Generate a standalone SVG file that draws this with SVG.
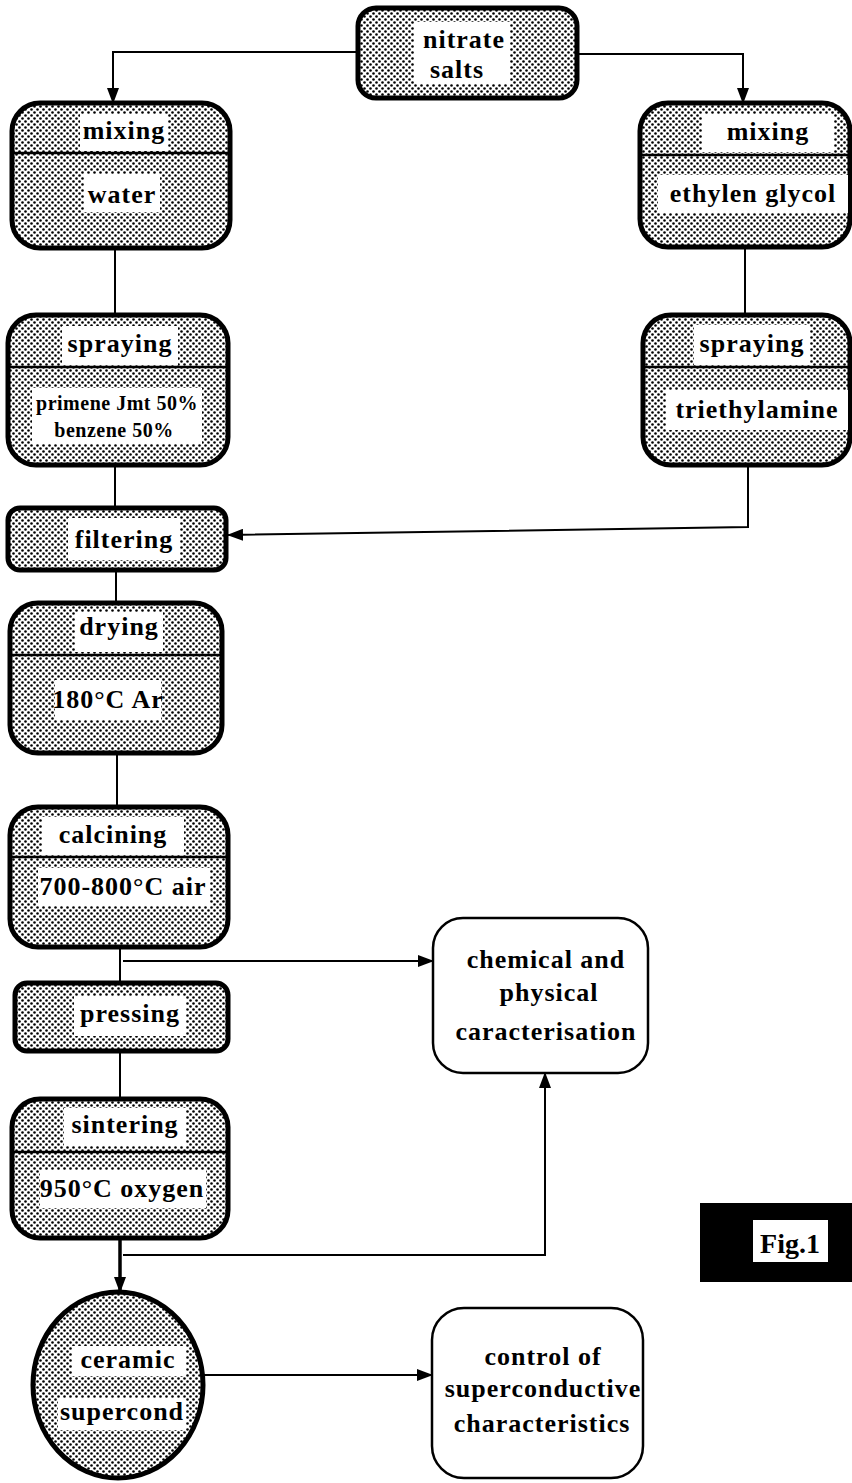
<svg xmlns="http://www.w3.org/2000/svg" width="852" height="1483" viewBox="0 0 852 1483">
<style>
.box{fill:url(#dots);stroke:#000;stroke-width:5}
.wbox{fill:#fff;stroke:#000;stroke-width:2.5}
.div{stroke:#000;stroke-width:2.5}
.knock{fill:#fff}
.t{font-family:"Liberation Serif","DejaVu Serif",serif;font-weight:bold;font-size:26px;letter-spacing:1px;text-anchor:middle;fill:#000}
.s{font-size:20px;letter-spacing:0.5px}
.c{fill:none;stroke:#000;stroke-width:2}
.ca{fill:none;stroke:#000;stroke-width:2;marker-end:url(#ah)}
</style>
<defs>
<pattern id="dots" width="6" height="6" patternUnits="userSpaceOnUse">
<rect width="6" height="6" fill="#fff"/>
<circle cx="1.5" cy="1.5" r="1.3" fill="#000"/>
<circle cx="4.5" cy="4.5" r="1.3" fill="#000"/>
</pattern>
<marker id="ah" markerUnits="userSpaceOnUse" markerWidth="16" markerHeight="12" refX="15" refY="6" orient="auto">
<path d="M0,0 L16,6 L0,12 Z" fill="#000"/>
</marker>
</defs>

<g id="connectors">
<polyline class="ca" points="358,52 113,52 113,103"/>
<polyline class="ca" points="577,54 743,54 743,103"/>
<line class="c" x1="115" y1="248" x2="115" y2="315"/>
<line class="c" x1="745" y1="247" x2="745" y2="315"/>
<line class="c" x1="115" y1="465" x2="115" y2="508"/>
<polyline class="ca" points="748,465 748,527 228,535"/>
<line class="c" x1="116" y1="570" x2="116" y2="603"/>
<line class="c" x1="117" y1="753" x2="117" y2="807"/>
<line class="c" x1="120" y1="947" x2="120" y2="983"/>
<line class="ca" x1="123" y1="961" x2="433" y2="961"/>
<line class="c" x1="120" y1="1051" x2="120" y2="1100"/>
<line class="ca" x1="120" y1="1238" x2="120" y2="1292" style="stroke-width:3.5"/>
<polyline class="ca" points="123,1255 545,1255 545,1073"/>
<line class="ca" x1="203" y1="1375" x2="432" y2="1375"/>
</g>

<g id="nitrate">
<rect class="box" x="358" y="8" width="219" height="90" rx="18"/>
<rect class="knock" x="414" y="22" width="96" height="62"/>
<text class="t" x="464" y="48">nitrate</text>
<text class="t" x="457" y="78">salts</text>
</g>

<g id="mixing-water">
<rect class="box" x="12" y="103" width="218" height="145" rx="28"/>
<line class="div" x1="14" y1="153" x2="228" y2="153"/>
<rect class="knock" x="80" y="114" width="88" height="37"/>
<text class="t" x="124" y="139">mixing</text>
<rect class="knock" x="84" y="174" width="76" height="38"/>
<text class="t" x="122" y="203">water</text>
</g>

<g id="mixing-glycol">
<rect class="box" x="640" y="103" width="210" height="144" rx="28"/>
<line class="div" x1="642" y1="155" x2="848" y2="155"/>
<rect class="knock" x="702" y="114" width="132" height="38"/>
<text class="t" x="768" y="140">mixing</text>
<rect class="knock" x="658" y="175" width="190" height="38"/>
<text class="t" x="753" y="202">ethylen glycol</text>
</g>

<g id="spraying-left">
<rect class="box" x="8" y="315" width="220" height="150" rx="28"/>
<line class="div" x1="10" y1="367" x2="226" y2="367"/>
<rect class="knock" x="62" y="326" width="116" height="39"/>
<text class="t" x="120" y="352">spraying</text>
<rect class="knock" x="32" y="388" width="170" height="56"/>
<text class="t s" x="117" y="410">primene Jmt 50%</text>
<text class="t s" x="114" y="437">benzene 50%</text>
</g>

<g id="spraying-right">
<rect class="box" x="643" y="315" width="207" height="150" rx="28"/>
<line class="div" x1="645" y1="367" x2="848" y2="367"/>
<rect class="knock" x="694" y="325" width="116" height="40"/>
<text class="t" x="752" y="352">spraying</text>
<rect class="knock" x="666" y="390" width="182" height="40"/>
<text class="t" x="757" y="418">triethylamine</text>
</g>

<g id="filtering">
<rect class="box" x="8" y="508" width="218" height="62" rx="12"/>
<rect class="knock" x="68" y="518" width="112" height="42"/>
<text class="t" x="124" y="548">filtering</text>
</g>

<g id="drying">
<rect class="box" x="10" y="603" width="212" height="150" rx="28"/>
<line class="div" x1="12" y1="655" x2="220" y2="655"/>
<rect class="knock" x="75" y="612" width="88" height="40"/>
<text class="t" x="119" y="635">drying</text>
<rect class="knock" x="55" y="680" width="106" height="40"/>
<text class="t" x="108" y="708">180°C Ar</text>
</g>

<g id="calcining">
<rect class="box" x="10" y="807" width="218" height="140" rx="28"/>
<line class="div" x1="12" y1="857" x2="226" y2="857"/>
<rect class="knock" x="42" y="817" width="142" height="38"/>
<text class="t" x="113" y="843">calcining</text>
<rect class="knock" x="38" y="868" width="172" height="38"/>
<text class="t" x="123" y="895">700-800°C air</text>
</g>

<g id="pressing">
<rect class="box" x="15" y="983" width="213" height="68" rx="12"/>
<rect class="knock" x="74" y="996" width="112" height="40"/>
<text class="t" x="130" y="1022">pressing</text>
</g>

<g id="sintering">
<rect class="box" x="12" y="1099" width="216" height="139" rx="28"/>
<line class="div" x1="14" y1="1152" x2="226" y2="1152"/>
<rect class="knock" x="64" y="1108" width="122" height="38"/>
<text class="t" x="125" y="1133">sintering</text>
<rect class="knock" x="40" y="1170" width="166" height="38"/>
<text class="t" x="122" y="1197">950°C oxygen</text>
</g>

<g id="ceramic">
<ellipse class="box" cx="118" cy="1385" rx="85" ry="93"/>
<rect class="knock" x="72" y="1346" width="114" height="30"/>
<text class="t" x="128" y="1368">ceramic</text>
<rect class="knock" x="58" y="1398" width="128" height="32"/>
<text class="t" x="122" y="1420">supercond</text>
</g>

<g id="chemical">
<rect class="wbox" x="433" y="918" width="215" height="155" rx="30"/>
<text class="t" x="546" y="968">chemical and</text>
<text class="t" x="549" y="1001">physical</text>
<text class="t" x="546" y="1040">caracterisation</text>
</g>

<g id="control">
<rect class="wbox" x="432" y="1308" width="211" height="170" rx="32"/>
<text class="t" x="543" y="1365">control of</text>
<text class="t" x="543" y="1397">superconductive</text>
<text class="t" x="542" y="1432">characteristics</text>
</g>

<g id="fig">
<rect x="700" y="1203" width="152" height="79" fill="#000"/>
<rect x="753" y="1220" width="75" height="42" fill="#fff"/>
<text class="t" x="790" y="1253" style="font-size:28px;letter-spacing:0">Fig.1</text>
</g>
</svg>
